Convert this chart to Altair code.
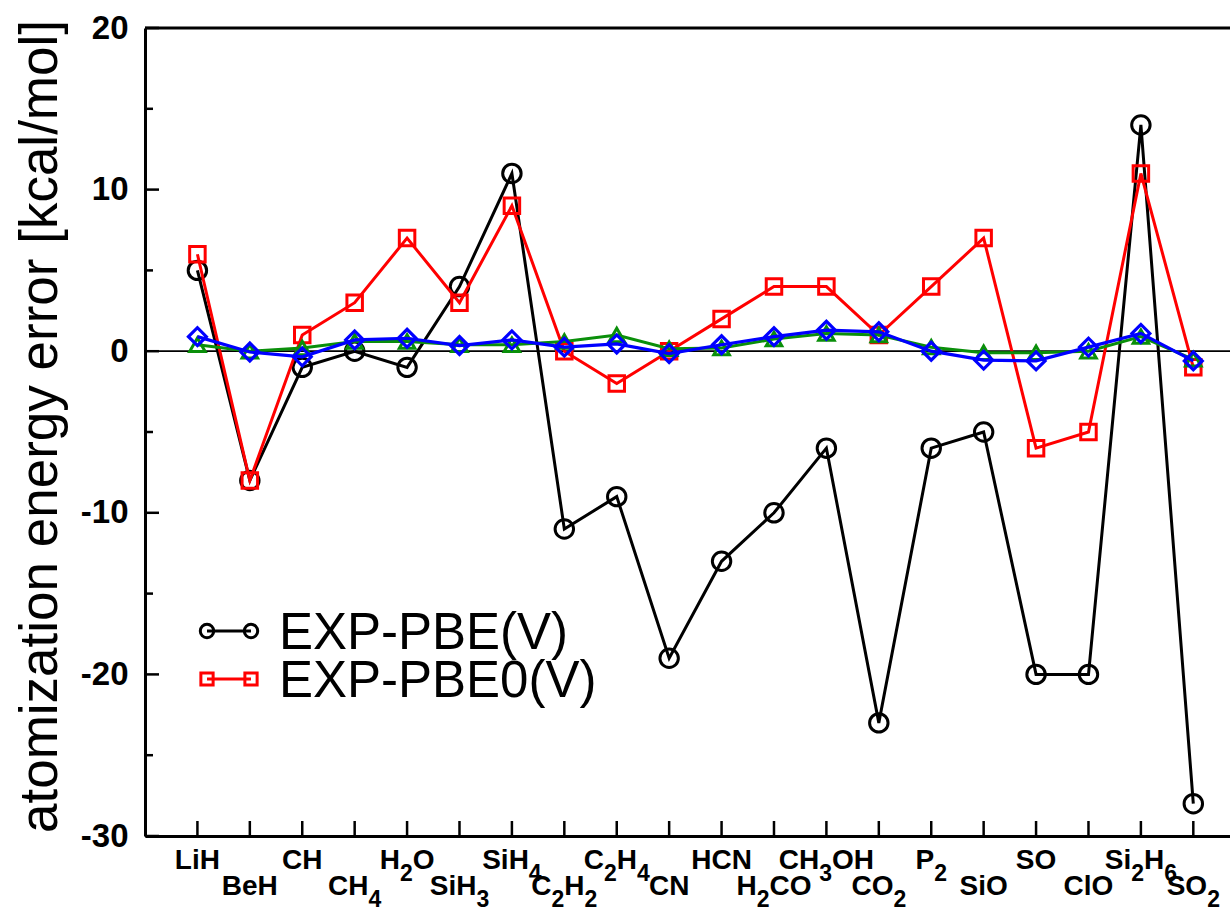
import altair as alt
import pandas as pd

# Molecules along the x axis ("_" marks a subscript digit)
molecules = ["LiH", "BeH", "CH", "CH_4", "H_2O", "SiH_3", "SiH_4", "C_2H_2", "C_2H_4", "CN",
             "HCN", "H_2CO", "CH_3OH", "CO_2", "P_2", "SiO", "SO", "ClO", "Si_2H_6", "SO_2"]

# Atomization energy errors [kcal/mol]
exp_pbe = [5, -8, -1, 0, -1, 4, 11, -11, -9, -19, -13, -10, -6, -23, -6, -5, -20, -20, 14, -28]
exp_pbe0 = [6, -8, 1, 3, 7, 3, 9, 0, -2, 0, 2, 4, 4, 1, 4, 7, -6, -5, 11, -1]
green_series = [0.4, 0.0, 0.2, 0.6, 0.6, 0.4, 0.4, 0.6, 1.0, 0.15, 0.2, 0.75, 1.1, 1.0, 0.25,
                -0.1, -0.1, 0.0, 0.9, -0.5]
blue_series = [0.9, -0.05, -0.35, 0.7, 0.8, 0.35, 0.7, 0.25, 0.45, -0.15, 0.4, 0.9, 1.3, 1.2,
               0.0, -0.55, -0.6, 0.25, 1.1, -0.6]

legend_names = ["EXP-PBE(V)", "EXP-PBE0(V)"]

y_major = [-30, -20, -10, 0, 10, 20]
y_minor = [-25, -15, -5, 5, 15]

WIDTH, HEIGHT = 1085, 808
X_MIN, X_MAX = 0, 20.7
Y_MIN, Y_MAX = -30, 20
PX_PER_X = WIDTH / (X_MAX - X_MIN)
FONT = "Liberation Sans"

xs = alt.Scale(domain=[X_MIN, X_MAX], nice=False, zero=False)
ys = alt.Scale(domain=[Y_MIN, Y_MAX], nice=False, zero=False)

idx = list(range(1, len(molecules) + 1))


def series_df(vals):
    return pd.DataFrame({"i": idx, "v": vals})


def series_layer(vals, color, shape, size, sw):
    base = alt.Chart(series_df(vals))
    line = base.mark_line(color=color, strokeWidth=sw).encode(
        x=alt.X("i:Q", scale=xs), y=alt.Y("v:Q", scale=ys))
    pts = base.mark_point(color=color, shape=shape, size=size, filled=False,
                          strokeWidth=sw, opacity=1).encode(
        x=alt.X("i:Q", scale=xs), y=alt.Y("v:Q", scale=ys))
    return [line, pts]


# Axes: left (with labels and title) and bottom
axis_df = pd.DataFrame({"i": [1], "v": [0]})
axes = alt.Chart(axis_df).mark_point(opacity=0).encode(
    x=alt.X("i:Q", scale=xs,
            axis=alt.Axis(labels=False, ticks=False, grid=False, title=None,
                          domainColor="black", domainWidth=3)),
    y=alt.Y("v:Q", scale=ys,
            axis=alt.Axis(values=y_major, labelExpr="toString(datum.value)",
                          labelFont=FONT, labelFontSize=33, labelFontWeight="bold",
                          labelColor="black", labelPadding=17, ticks=False, grid=False,
                          domainColor="black", domainWidth=3,
                          title="atomization energy error [kcal/mol]",
                          titleFont=FONT, titleFontSize=53, titleFontWeight="normal",
                          titleColor="black", titleAngle=270, titleX=-105, titleY=398,
                          titleAlign="center", titleBaseline="middle")),
)

# Top frame line and zero line
top_line = alt.Chart(axis_df).mark_rule(color="black", strokeWidth=3).encode(
    y=alt.value(0), x=alt.value(0), x2=alt.value(WIDTH))
zero_line = alt.Chart(pd.DataFrame({"z": [0]})).mark_rule(color="black", strokeWidth=1.8).encode(
    y=alt.Y("z:Q", scale=ys), x=alt.value(0), x2=alt.value(WIDTH))

# Inward ticks
ymaj = alt.Chart(pd.DataFrame({"t": y_major})).mark_rule(color="black", strokeWidth=2.5).encode(
    y=alt.Y("t:Q", scale=ys), x=alt.value(0), x2=alt.value(14))
ymin = alt.Chart(pd.DataFrame({"t": y_minor})).mark_rule(color="black", strokeWidth=2.5).encode(
    y=alt.Y("t:Q", scale=ys), x=alt.value(0), x2=alt.value(8))
xtk = alt.Chart(pd.DataFrame({"t": idx})).mark_rule(color="black", strokeWidth=2.5).encode(
    x=alt.X("t:Q", scale=xs), y=alt.value(HEIGHT), y2=alt.value(HEIGHT - 15))

# Tick labels with subscripts, split into text runs (Arial-bold metrics)
GLYPH_W = {"L": 611, "i": 278, "H": 722, "B": 722, "e": 556, "C": 722, "S": 667,
           "O": 778, "N": 722, "P": 667, "l": 278}
FS_MAIN, FS_SUB = 28, 23


def split_runs(label):
    runs, k = [], 0
    while k < len(label):
        if label[k] == "_":
            runs.append((label[k + 1], True))
            k += 2
        else:
            if runs and not runs[-1][1]:
                runs[-1] = (runs[-1][0] + label[k], False)
            else:
                runs.append((label[k], False))
            k += 1
    return runs


def run_width(text, sub):
    fs = FS_SUB if sub else FS_MAIN
    return sum(GLYPH_W.get(c, 556) for c in text) / 1000 * fs


rows = []
for i, lab in zip(idx, molecules):
    runs = split_runs(lab)
    total = sum(run_width(t, s) for t, s in runs)
    off = -total / 2
    for t, s in runs:
        rows.append({"x": i + off / PX_PER_X, "t": t, "sub": s, "row": 1 if i % 2 == 1 else 2})
        off += run_width(t, s)
lab_df = pd.DataFrame(rows)

ROW_BASE = {1: HEIGHT + 33, 2: HEIGHT + 59}
SUB_DROP = 12
label_layers = []
for r in (1, 2):
    for s in (False, True):
        label_layers.append(
            alt.Chart(lab_df).transform_filter(
                (alt.datum.row == r) & (alt.datum.sub == s)
            ).mark_text(align="left", baseline="alphabetic", font=FONT, fontWeight="bold",
                        fontSize=FS_SUB if s else FS_MAIN, color="black").encode(
                x=alt.X("x:Q", scale=xs), y=alt.value(ROW_BASE[r] + (SUB_DROP if s else 0)),
                text="t:N")
        )

# Legend (line with a marker at each end)
leg_specs = [("black", "circle", 180), ("red", "square", 150)]
legend_layers = []
for k, (name, (col, shp, sz)) in enumerate(zip(legend_names, leg_specs)):
    yc = 603 + 48 * k
    d = alt.Chart(pd.DataFrame({"name": [name]}))
    legend_layers.append(d.mark_rule(color=col, strokeWidth=3).encode(
        x=alt.value(62), x2=alt.value(106), y=alt.value(yc)))
    for xp in (62, 106):
        legend_layers.append(d.mark_point(color=col, shape=shp, size=sz, filled=False,
                                          strokeWidth=3, opacity=1).encode(
            x=alt.value(xp), y=alt.value(yc)))
    legend_layers.append(d.mark_text(align="left", baseline="alphabetic", font=FONT,
                                      fontSize=51, color="black").encode(
        x=alt.value(134), y=alt.value(yc + 18), text="name:N"))

layers = [axes, top_line, zero_line, ymaj, ymin, xtk]
layers += series_layer(exp_pbe, "black", "circle", 340, 3)
layers += series_layer(exp_pbe0, "#ff0000", "square", 240, 3)
layers += series_layer(green_series, "#0a8f0a", "triangle-up", 240, 3)
layers += series_layer(blue_series, "#0000ff", "diamond", 320, 3.2)
layers += label_layers + legend_layers

chart = alt.layer(*layers).properties(
    width=WIDTH, height=HEIGHT,
    autosize=alt.AutoSizeParams(type="none"),
    padding={"left": 145, "top": 28, "right": 0, "bottom": 82},
    background="white",
).configure_view(stroke=None)

chart.save("out.html", embed_options={"renderer": "svg", "actions": False})
